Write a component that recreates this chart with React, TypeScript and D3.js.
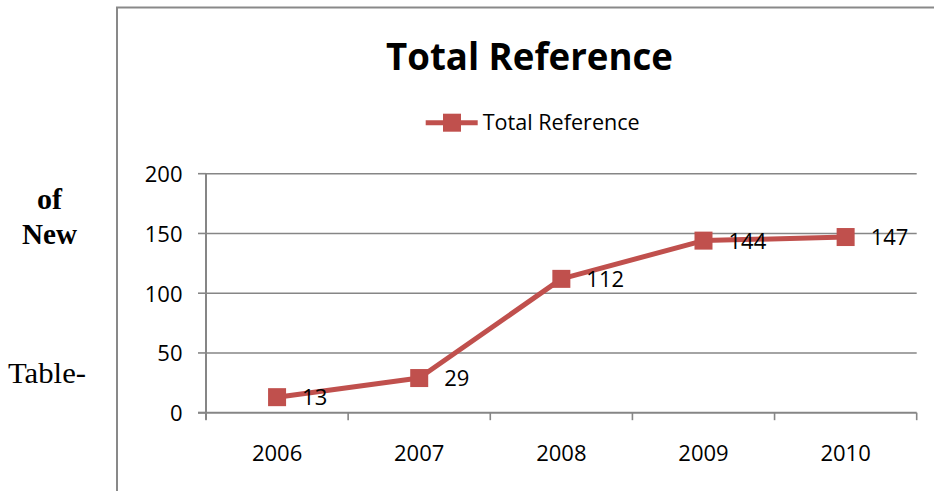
import React from "react";
import * as d3 from "d3";

const years = ["2006", "2007", "2008", "2009", "2010"];
const totalReference = [13, 29, 112, 144, 147];
const yTicks = [0, 50, 100, 150, 200];
const titleText = "Total Reference";
const seriesName = "Total Reference";
const sideLabels = [
  { text: "of", bold: true },
  { text: "New", bold: true },
  { text: "Table-", bold: false },
];

const W = 934;
const H = 491;
const RED = "#C0504D";
const GRID = "#868686";
const SANS = "'Open Sans', 'Noto Sans', sans-serif";
const SERIF = "'Liberation Serif', 'Times New Roman', serif";

export default function App() {
  const plotLeft = 206;
  const plotRight = 916.7;
  const plotTop = 173.7;
  const plotBottom = 412.7;

  const x = d3.scaleBand<string>().domain(years).range([plotLeft, plotRight]).padding(0);
  const y = d3.scaleLinear().domain([0, 200]).range([plotBottom, plotTop]);
  const cx = (yr: string) => (x(yr) as number) + x.bandwidth() / 2;

  const line = d3
    .line<number>()
    .x((_, i) => cx(years[i]))
    .y((d) => y(d));

  const boundaries = years.map((yr) => x(yr) as number).concat([plotRight]);
  const sideY = [209, 244, 382.5];
  const sideX = [49.5, 49.5, 47];
  const sideW = [25, 55, 78];
  const markerSize = 18;
  const FS = 22;

  return (
    <svg
      width={W}
      height={H}
      style={{ position: "absolute", left: 0, top: 0, background: "#fff" }}
    >
      <rect x={0} y={0} width={W} height={H} fill="#fff" />
      {/* outer chart border */}
      <rect x={117} y={7.5} width={W} height={H} fill="none" stroke="#898989" strokeWidth={2} />

      {/* side document text */}
      {sideLabels.map((s, i) => (
        <text
          key={s.text}
          x={sideX[i]}
          y={sideY[i]}
          textAnchor="middle"
          fontFamily={SERIF}
          fontSize={29.5}
          fontWeight={s.bold ? "bold" : "normal"}
          textLength={sideW[i]}
          lengthAdjust="spacingAndGlyphs"
          fill="#000"
        >
          {s.text}
        </text>
      ))}

      {/* title */}
      <text
        x={529.5}
        y={70}
        textAnchor="middle"
        fontFamily={SANS}
        fontWeight="bold"
        fontSize={37.5}
        textLength={287}
        lengthAdjust="spacingAndGlyphs"
        fill="#000"
      >
        {titleText}
      </text>

      {/* legend */}
      <line x1={425.7} x2={477.7} y1={122.7} y2={122.7} stroke={RED} strokeWidth={5} />
      <rect
        x={452 - markerSize / 2}
        y={122.7 - markerSize / 2}
        width={markerSize}
        height={markerSize}
        fill={RED}
      />
      <text
        x={482.7}
        y={129.8}
        fontFamily={SANS}
        fontSize={FS}
        textLength={157}
        lengthAdjust="spacingAndGlyphs"
        fill="#000"
      >
        {seriesName}
      </text>

      {/* gridlines */}
      {yTicks.filter((t) => t !== 0).map((t) => (
        <line key={t} x1={plotLeft} x2={plotRight} y1={y(t)} y2={y(t)} stroke={GRID} strokeWidth={1.5} />
      ))}

      {/* y axis */}
      <line x1={plotLeft} x2={plotLeft} y1={plotTop} y2={plotBottom + 7} stroke={GRID} strokeWidth={2} />
      {yTicks.map((t) => (
        <g key={t}>
          <line x1={plotLeft - 8} x2={plotLeft} y1={y(t)} y2={y(t)} stroke={GRID} strokeWidth={1.6} />
          <text
            x={182.5}
            y={y(t) + 8.5}
            textAnchor="end"
            fontFamily={SANS}
            fontSize={FS}
            fill="#000"
          >
            {t}
          </text>
        </g>
      ))}

      {/* x axis */}
      <line x1={plotLeft - 8} x2={plotRight} y1={plotBottom} y2={plotBottom} stroke={GRID} strokeWidth={2} />
      {boundaries.map((b, i) => (
        <line key={i} x1={b} x2={b} y1={plotBottom} y2={plotBottom + 7.5} stroke={GRID} strokeWidth={1.6} />
      ))}
      {years.map((yr) => (
        <text
          key={yr}
          x={cx(yr)}
          y={460.7}
          textAnchor="middle"
          fontFamily={SANS}
          fontSize={FS}
          fill="#000"
        >
          {yr}
        </text>
      ))}

      {/* series line */}
      <path d={line(totalReference) || ""} fill="none" stroke={RED} strokeWidth={5} strokeLinejoin="round" />
      {totalReference.map((v, i) => (
        <rect
          key={i}
          x={cx(years[i]) - markerSize / 2}
          y={y(v) - markerSize / 2}
          width={markerSize}
          height={markerSize}
          fill={RED}
        />
      ))}
      {totalReference.map((v, i) => (
        <text
          key={i}
          x={cx(years[i]) + 25}
          y={y(v) + 8.2}
          fontFamily={SANS}
          fontSize={FS}
          fill="#000"
        >
          {v}
        </text>
      ))}
    </svg>
  );
}
